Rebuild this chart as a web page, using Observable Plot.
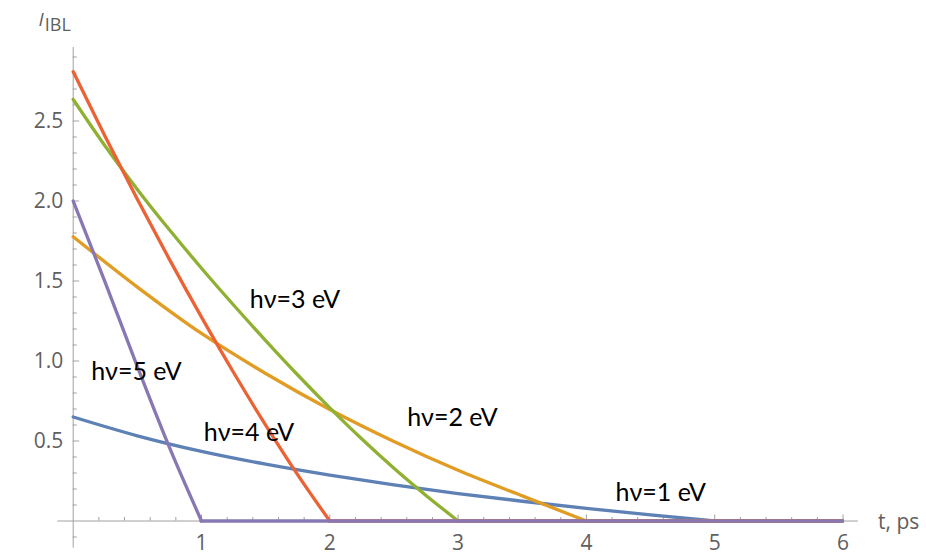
<!DOCTYPE html>
<html>
<head>
<meta charset="utf-8">
<script src="https://cdn.jsdelivr.net/npm/d3@7"></script>
<script src="https://cdn.jsdelivr.net/npm/@observablehq/plot@0.6"></script>
<style>
  html, body { margin: 0; padding: 0; background: #fff; }
  #chart { width: 926px; height: 557px; }
</style>
</head>
<body>
<div id="chart"></div>
<script>
// ---- data ----
const seriesNames = ["hν=1 eV", "hν=2 eV", "hν=3 eV", "hν=4 eV", "hν=5 eV"];
const tBlue   = [0, 0.5, 1, 1.5, 2, 2.5, 3, 3.5, 4, 4.5, 5];
const iBlue   = [0.65, 0.5325, 0.435, 0.355, 0.2865, 0.2255, 0.1715, 0.1235, 0.079, 0.038, 0];
const tOrange = [0, 0.5, 1, 1.5, 2, 2.5, 3, 3.5, 4];
const iOrange = [1.777, 1.462, 1.172, 0.922, 0.697, 0.497, 0.317, 0.157, 0];
const tGreen  = [0, 0.25, 0.5, 0.75, 1, 1.25, 1.5, 1.75, 2, 2.25, 2.5, 2.75, 3];
const iGreen  = [2.635, 2.3425, 2.0725, 1.82, 1.58, 1.35, 1.1275, 0.9125, 0.7075, 0.5125, 0.33, 0.16, 0];
const tRed    = [0, 0.25, 0.5, 0.75, 1, 1.25, 1.5, 1.75, 2];
const iRed    = [2.808, 2.402, 2.011, 1.635, 1.274, 0.928, 0.5995, 0.2885, 0];
const tPurple = [0, 0.25, 0.5, 0.75, 1];
const iPurple = [2.0, 1.49, 0.965, 0.46, 0];
const tMax = 6;

// label positions (data coords)
const labelT = [4.227, 2.603, 1.376, 1.018, 0.140];
const labelI = [0.173, 0.642, 1.379, 0.5525, 0.934];

// axes
const xTicksMajor = [1, 2, 3, 4, 5, 6];
const xTickLabels = ["1", "2", "3", "4", "5", "6"];
const yTicksMajor = [0.5, 1.0, 1.5, 2.0, 2.5];
const yTickLabels = ["0.5", "1.0", "1.5", "2.0", "2.5"];
const xAxisExtent = [-0.12, 6.12];
const yAxisExtent = [-0.17, 2.96];
const xAxisTitle = "t, ps";

// ---- build tables ----
const colors = ["#5E81B5", "#E19C24", "#8FB032", "#EB6235", "#8778B3"];
const tArrs = [tBlue, tOrange, tGreen, tRed, tPurple];
const iArrs = [iBlue, iOrange, iGreen, iRed, iPurple];
const rows = [];
tArrs.forEach((ts, k) => ts.forEach((t, j) => rows.push({t, i: iArrs[k][j], name: seriesNames[k]})));
const tails = tArrs.map((ts, k) => ({x1: ts[ts.length - 1], x2: tMax, y: 0, name: seriesNames[k]}));
const labels = seriesNames.map((name, k) => ({name, t: labelT[k], i: labelI[k]}));

const xMinor = d3.range(1, 30).map(k => k * 0.2).filter(v => Math.abs(v - Math.round(v)) > 1e-6);
const yMinor = d3.range(-1, 30).map(k => k * 0.1).filter(v => Math.abs(v * 2 - Math.round(v * 2)) > 1e-6);

// ---- layout ----
const W = 926, H = 557;
const mL = 72.7, mR = 83.5, mT = 40.5, mB = 36.5;
const yDom = [0, 3], xDom = [0, 6];
const pxPerY = (H - mT - mB) / (yDom[1] - yDom[0]);
const pxPerX = (W - mL - mR) / (xDom[1] - xDom[0]);
const axisColor = "#a0a0a0";
const labelColor = "#5f5f5f";
const tickFont = "'Open Sans', sans-serif";

const plot = Plot.plot({
  width: W, height: H,
  marginLeft: mL, marginRight: mR, marginTop: mT, marginBottom: mB,
  x: {domain: xDom, axis: null},
  y: {domain: yDom, axis: null},
  color: {domain: seriesNames, range: colors},
  style: {background: "white", overflow: "visible"},
  marks: [
    // axis lines
    Plot.ruleY([0], {x1: xAxisExtent[0], x2: xAxisExtent[1], stroke: axisColor, strokeWidth: 1}),
    Plot.ruleX([0], {y1: yAxisExtent[0], y2: yAxisExtent[1], stroke: axisColor, strokeWidth: 1}),
    // x ticks (upward)
    Plot.ruleX(xMinor, {x: d => d, y1: 0, y2: 3.5 / pxPerY, stroke: axisColor}),
    Plot.ruleX(xTicksMajor, {x: d => d, y1: 0, y2: 6 / pxPerY, stroke: axisColor}),
    // y ticks (rightward)
    Plot.ruleY(yMinor, {y: d => d, x1: 0, x2: 4 / pxPerX, stroke: axisColor}),
    Plot.ruleY(yTicksMajor, {y: d => d, x1: 0, x2: 6.5 / pxPerX, stroke: axisColor}),
    // tick labels
    Plot.text(xTicksMajor, {x: d => d, y: 0, text: (d, k) => xTickLabels[k], dy: 22, fill: labelColor, fontSize: 21, fontFamily: tickFont}),
    Plot.text(yTicksMajor, {x: 0, y: d => d, text: (d, k) => yTickLabels[k], dx: -10, textAnchor: "end", fill: labelColor, fontSize: 21, fontFamily: tickFont}),
    Plot.text([xAxisTitle], {x: xDom[1], y: 0, text: d => d, dx: 35, dy: 1, textAnchor: "start", fill: labelColor, fontSize: 21, fontFamily: tickFont}),
    // curves
    Plot.lineY(rows, {x: "t", y: "i", z: "name", stroke: "name", curve: "monotone-x", strokeWidth: 3.3, strokeLinecap: "round", strokeLinejoin: "round"}),
    Plot.ruleY(tails, {y: "y", x1: "x1", x2: "x2", stroke: "name", strokeWidth: 3.3, strokeLinecap: "round"}),
    // labels
    Plot.text(labels, {x: "t", y: "i", text: "name", textAnchor: "start", fill: "black", fontSize: 25, fontFamily: "Lato, sans-serif"})
  ]
});

// y axis title: italic I with subscript IBL, positioned via the plot's scales
const sx = plot.scale("x"), sy = plot.scale("y");
const x0 = sx.apply(0), yTop = sy.apply(yAxisExtent[1]);
const title = d3.select(plot).append("text")
  .attr("x", x0 - 18).attr("y", yTop - 21)
  .attr("fill", labelColor).attr("font-family", tickFont).attr("font-size", 19);
title.append("tspan").attr("font-style", "italic").text("I");
title.append("tspan").attr("dy", 5).attr("dx", 1).attr("font-size", 18).text("IBL");

document.getElementById("chart").appendChild(plot);
</script>
</body>
</html>
